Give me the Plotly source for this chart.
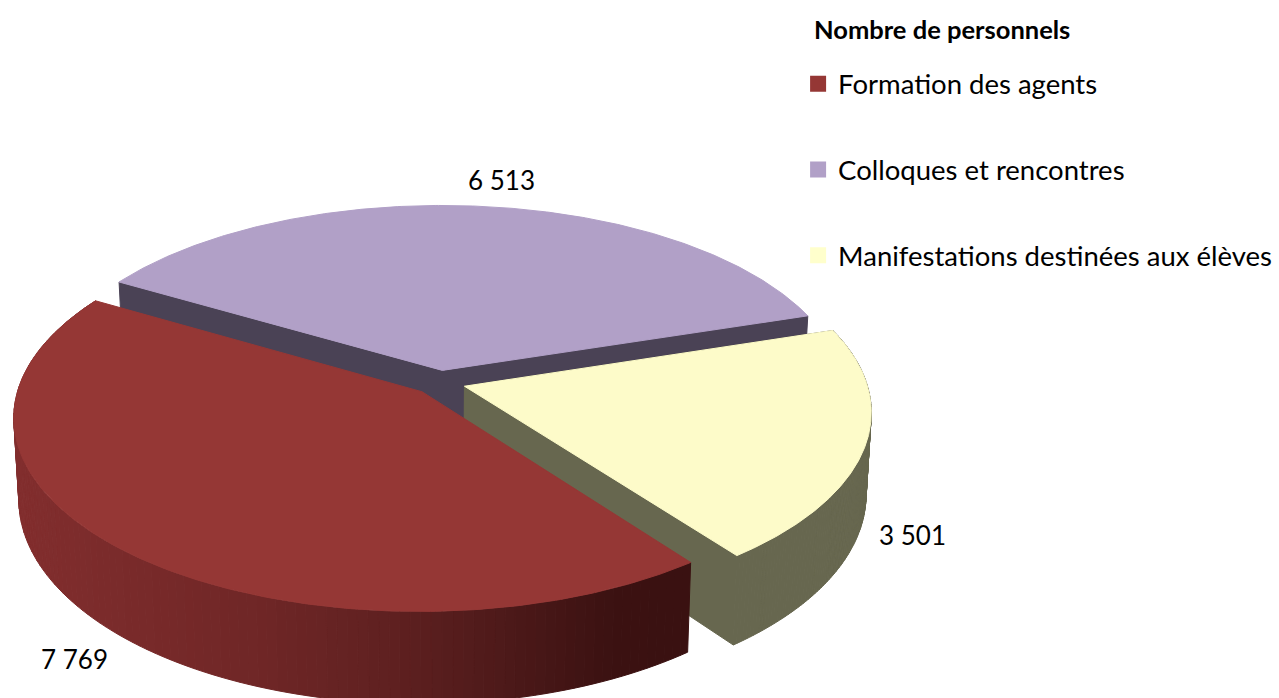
import numpy as np
import plotly.graph_objects as go

categories = ["Formation des agents", "Colloques et rencontres", "Manifestations destinées aux élèves"]
values = [7769, 6513, 3501]
labels = ["7 769", "6 513", "3 501"]
legend_title = "Nombre de personnels"
top_colors = ["#953735", "#B1A0C7", "#FDFBC9"]
legend_colors = ["#953735", "#B1A0C7", "#FFFFCC"]
wall_colors = ["#3F1212", "#4A4255", "#67674F"]
label_x = [74, 501, 912]
label_y = [659, 180, 535]

# 3D pie geometry
CX, CY, A, B, D = 439.5, 382.5, 402, 189, 7.8
DEPTH, SHRINK, EXPLODE = 80, 0.988, 0.065
START_DEG = -59.6  # start of the purple slice, clockwise from the back


def project(X, Y, bottom=False):
    s = D / (D - np.asarray(Y, float))
    k = SHRINK if bottom else 1.0
    return CX + A * np.asarray(X, float) * s * k, CY + B * np.asarray(Y, float) * s + (DEPTH * s if bottom else 0)


total = sum(values)
order = [1, 2, 0]  # clockwise from the start angle
spans = {}
a = np.radians(START_DEG)
for i in order:
    span = 2 * np.pi * values[i] / total
    spans[i] = (a, a + span)
    a += span


def disc(i, t, r=1.0):
    a0, a1 = spans[i]
    m = (a0 + a1) / 2
    return EXPLODE * np.sin(m) + r * np.sin(t), -EXPLODE * np.cos(m) - r * np.cos(t)


fig = go.Figure()


def poly(x, y, color):
    fig.add_trace(go.Scatter(x=list(x), y=list(y), mode="lines", fill="toself", fillcolor=color,
                             line=dict(color=color, width=1), showlegend=False, hoverinfo="skip"))


def wall(i, t):
    ax, ay = disc(i, 0, 0)
    ex, ey = disc(i, t)
    x0, y0 = project(ax, ay)
    x1, y1 = project(ex, ey)
    x2, y2 = project(ex, ey, True)
    x3, y3 = project(ax, ay, True)
    poly([x0, x1, x2, x3, x0], [y0, y1, y2, y3, y0], wall_colors[i])


def outer(i, color_fn, n=120):
    a0, a1 = spans[i]
    ts = np.linspace(a0, a1, n + 1)
    for t0, t1 in zip(ts[:-1], ts[1:]):
        tt = np.linspace(t0, t1, 3)
        X, Y = disc(i, tt)
        x0, y0 = project(X, Y)
        x1, y1 = project(X, Y, True)
        xs = np.r_[x0, x1[::-1], x0[0]]
        ys = np.r_[y0, y1[::-1], y0[0]]
        poly(xs, ys, color_fn(x0.mean()))


def top(i, n=240):
    a0, a1 = spans[i]
    tt = np.linspace(a0, a1, n)
    X, Y = disc(i, tt)
    ax, ay = disc(i, 0, 0)
    x, y = project(np.r_[ax, X, ax], np.r_[ay, Y, ay])
    poly(x, y, top_colors[i])


def red_side(x):
    f = np.clip((x - 20) / (690 - 20), 0, 1)
    stops = np.array([[130, 46, 46], [112, 39, 39], [96, 33, 33], [78, 26, 26], [60, 18, 18], [58, 17, 17]], float)
    pos = np.array([0, 0.35, 0.55, 0.72, 0.88, 1.0])
    c = [np.interp(f, pos, stops[:, j]) for j in range(3)]
    return "rgb(%d,%d,%d)" % tuple(c)


# Purple (furthest), then yellow, then red
wall(1, spans[1][0])
wall(1, spans[1][1])
top(1)
outer(2, lambda x: wall_colors[2])
wall(2, spans[2][0])
wall(2, spans[2][1])
top(2)
outer(0, red_side)
top(0)

for name, color in zip(categories, legend_colors):
    fig.add_trace(go.Scatter(x=[None], y=[None], mode="markers", name=name, legendgroup=name,
                             marker=dict(symbol="square", size=16, color=color)))

for lab, x, y in zip(labels, label_x, label_y):
    fig.add_annotation(x=x, y=y, text=lab, showarrow=False,
                       font=dict(family="Lato", size=26, color="black"))
fig.add_annotation(x=812, y=29, xanchor="left", text="<b>" + legend_title + "</b>", showarrow=False,
                   font=dict(family="Lato", size=25.5, color="black"))

fig.update_layout(
    width=1279, height=698, margin=dict(l=0, r=0, t=0, b=0),
    paper_bgcolor="white", plot_bgcolor="white",
    font=dict(family="Lato", size=27.5, color="black"),
    xaxis=dict(range=[0, 1279], visible=False, fixedrange=True),
    yaxis=dict(range=[698, 0], visible=False, fixedrange=True),
    legend=dict(x=0.624, y=0.915, xanchor="left", yanchor="top", tracegroupgap=47,
                bgcolor="rgba(0,0,0,0)"),
)
fig.write_html("out.html", config={"displayModeBar": False},
               post_script="document.body.style.margin='0';document.body.style.overflow='hidden';")
